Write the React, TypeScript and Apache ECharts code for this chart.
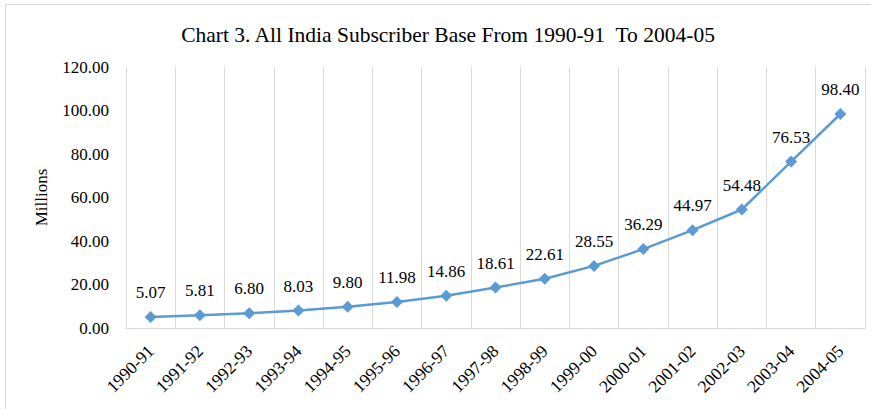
import React, { useEffect, useRef, useState } from "react";
import * as echarts from "echarts";

const categories = ["1990-91","1991-92","1992-93","1993-94","1994-95","1995-96","1996-97","1997-98","1998-99","1999-00","2000-01","2001-02","2002-03","2003-04","2004-05"];
const subscribers = [5.07, 5.81, 6.80, 8.03, 9.80, 11.98, 14.86, 18.61, 22.61, 28.55, 36.29, 44.97, 54.48, 76.53, 98.40];
const titleText = "Chart 3. All India Subscriber Base From 1990-91  To 2004-05";
const yAxisName = "Millions";

const FONT = "Liberation Serif";

function buildOption() {
  return {
    animation: false,
    textStyle: { fontFamily: FONT, fontWeight: "normal" },
    title: {
      text: titleText,
      left: 443,
      textAlign: "center",
      top: 19,
      textStyle: { fontFamily: FONT, fontSize: 21.5, fontWeight: "normal", color: "#000" },
    },
    grid: { left: 126, right: 6, top: 67, bottom: 81, containLabel: false },
    xAxis: {
      type: "category",
      data: categories,
      boundaryGap: true,
      axisLine: { show: true, lineStyle: { color: "#d9d9d9", width: 1 } },
      axisTick: { show: false },
      splitLine: { show: true, lineStyle: { color: "#d9d9d9", width: 1 } },
      axisLabel: { interval: 0, rotate: 45, margin: 20, fontFamily: FONT, fontWeight: "normal", fontSize: 17.5, color: "#000" },
    },
    yAxis: {
      type: "value",
      min: 0,
      max: 120,
      interval: 20,
      name: yAxisName,
      nameLocation: "middle",
      nameGap: 76,
      nameRotate: 90,
      nameTextStyle: { fontFamily: FONT, fontWeight: "normal", fontSize: 17, color: "#000" },
      axisLine: { show: false },
      axisTick: { show: false },
      splitLine: { show: false },
      axisLabel: { formatter: (v: number) => v.toFixed(2), fontFamily: FONT, fontWeight: "normal", fontSize: 17, color: "#000", margin: 17 },
    },
    series: [
      {
        type: "line",
        data: subscribers,
        symbol: "diamond",
        symbolSize: 12,
        itemStyle: { color: "#5B9BD5" },
        lineStyle: { color: "#5B9BD5", width: 2.5 },
        label: {
          show: true,
          position: "top",
          distance: 10,
          formatter: (p: any) => Number(p.value).toFixed(2),
          fontFamily: FONT,
          fontWeight: "normal",
          fontSize: 17,
          color: "#000",
        },
      },
    ],
  };
}

export default function App() {
  const ref = useRef<HTMLDivElement>(null);
  const [tick, setTick] = useState(0);
  useEffect(() => {
    document.body.style.margin = "0";
    const chart = echarts.init(ref.current!, null, { renderer: "svg" });
    chart.setOption(buildOption());
    // touch the generated texts and force a re-render so fonts are re-resolved
    const n = ref.current!.querySelectorAll("text").length;
    setTick(n);
    let alive = true;
    const redo = () => {
      if (!alive) return;
      chart.setOption(buildOption(), true);
      setTick((t) => t + 1);
    };
    const raf = requestAnimationFrame(redo);
    const fontsAny = (document as any).fonts;
    if (fontsAny && fontsAny.load) {
      fontsAny.load('17px "Liberation Serif"').then(redo).catch(() => {});
    }
    return () => {
      alive = false;
      cancelAnimationFrame(raf);
      chart.dispose();
    };
  }, []);
  return (
    <div id="chartwrap" data-tick={tick} style={{ position: "relative", width: 871, height: 409, overflow: "hidden", background: "#fff" }}>
      <style>{`#chartwrap svg text { font-family: "Liberation Serif", "Times New Roman", serif !important; }`}</style>
      <div ref={ref} style={{ width: 871, height: 409 }} />
      <div
        style={{
          position: "absolute",
          left: 5,
          top: 4,
          width: 880,
          height: 420,
          border: "1.5px solid #d9d9d9",
          pointerEvents: "none",
        }}
      />
    </div>
  );
}
